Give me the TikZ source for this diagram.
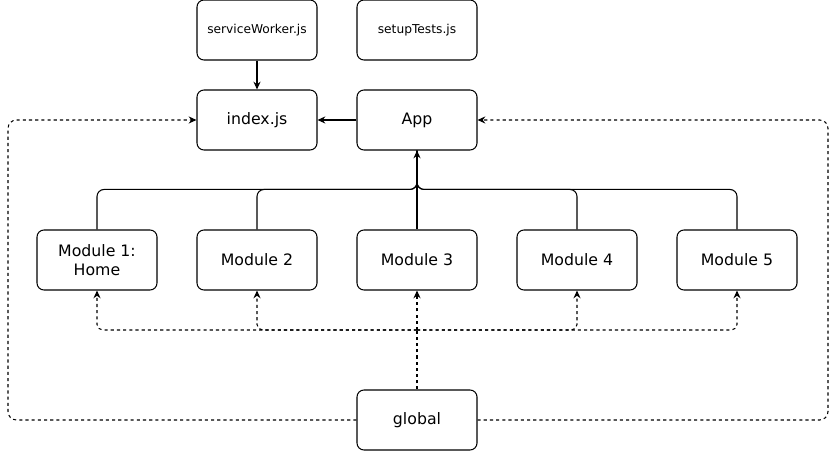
\documentclass[tikz,border=0pt]{standalone}
\usepackage{fontspec}
\setmainfont{DejaVu Sans}
\usetikzlibrary{arrows.meta}

\begin{document}
\begin{tikzpicture}[x=0.025cm,y=-0.025cm,
  box/.style={draw,line width=0.75pt,rounded corners=5pt,minimum width=3cm,minimum height=1.5cm,
    inner sep=0pt,align=center,font=\fontsize{11.2}{13.5}\selectfont},
  smallbox/.style={box,font=\fontsize{8.7}{10}\selectfont},
  wire/.style={line width=0.75pt},
  link/.style={wire,-{Stealth[length=5.5pt,width=5pt]}},
  dwire/.style={wire,dash pattern=on 2.2pt off 2.2pt},
  dlink/.style={link,dash pattern=on 2.2pt off 2.2pt}]
\useasboundingbox (0,0) rectangle (836,451);

\node[smallbox] (sw) at (257,30) {serviceWorker.js};
\node[smallbox] (tests) at (417,30) {setupTests.js};
\node[box] (idx) at (257,120) {index.js};
\node[box] (app) at (417,120) {App};
\node[box] (m1) at (97,260) {Module 1:\\Home};
\node[box] (m2) at (257,260) {Module 2};
\node[box] (m3) at (417,260) {Module 3};
\node[box] (m4) at (577,260) {Module 4};
\node[box] (m5) at (737,260) {Module 5};
\node[box] (glob) at (417,420) {global};
\coordinate (hub) at (417,330);
\coordinate (lft) at (8,120);
\coordinate (rgt) at (828,120);

\draw[link] (sw) -- (idx);
\draw[link] (app) -- (idx);

\foreach \m in {m1,m2,m4,m5}
  \draw[wire,rounded corners=5pt] (\m.north) -- ++(0,-40) -| (app.south);
\draw[link] (m3) -- (app);

\draw[dwire] (glob) -- (hub);
\foreach \m in {m1,m2,m4,m5}
  \draw[dlink,rounded corners=4pt] (hub) -| (\m.south);
\draw[dlink] (hub) -- (m3);

\draw[dlink,rounded corners=6pt] (glob.west) -| (lft) -- (idx.west);
\draw[dlink,rounded corners=6pt] (glob.east) -| (rgt) -- (app.east);
\end{tikzpicture}
\end{document}
